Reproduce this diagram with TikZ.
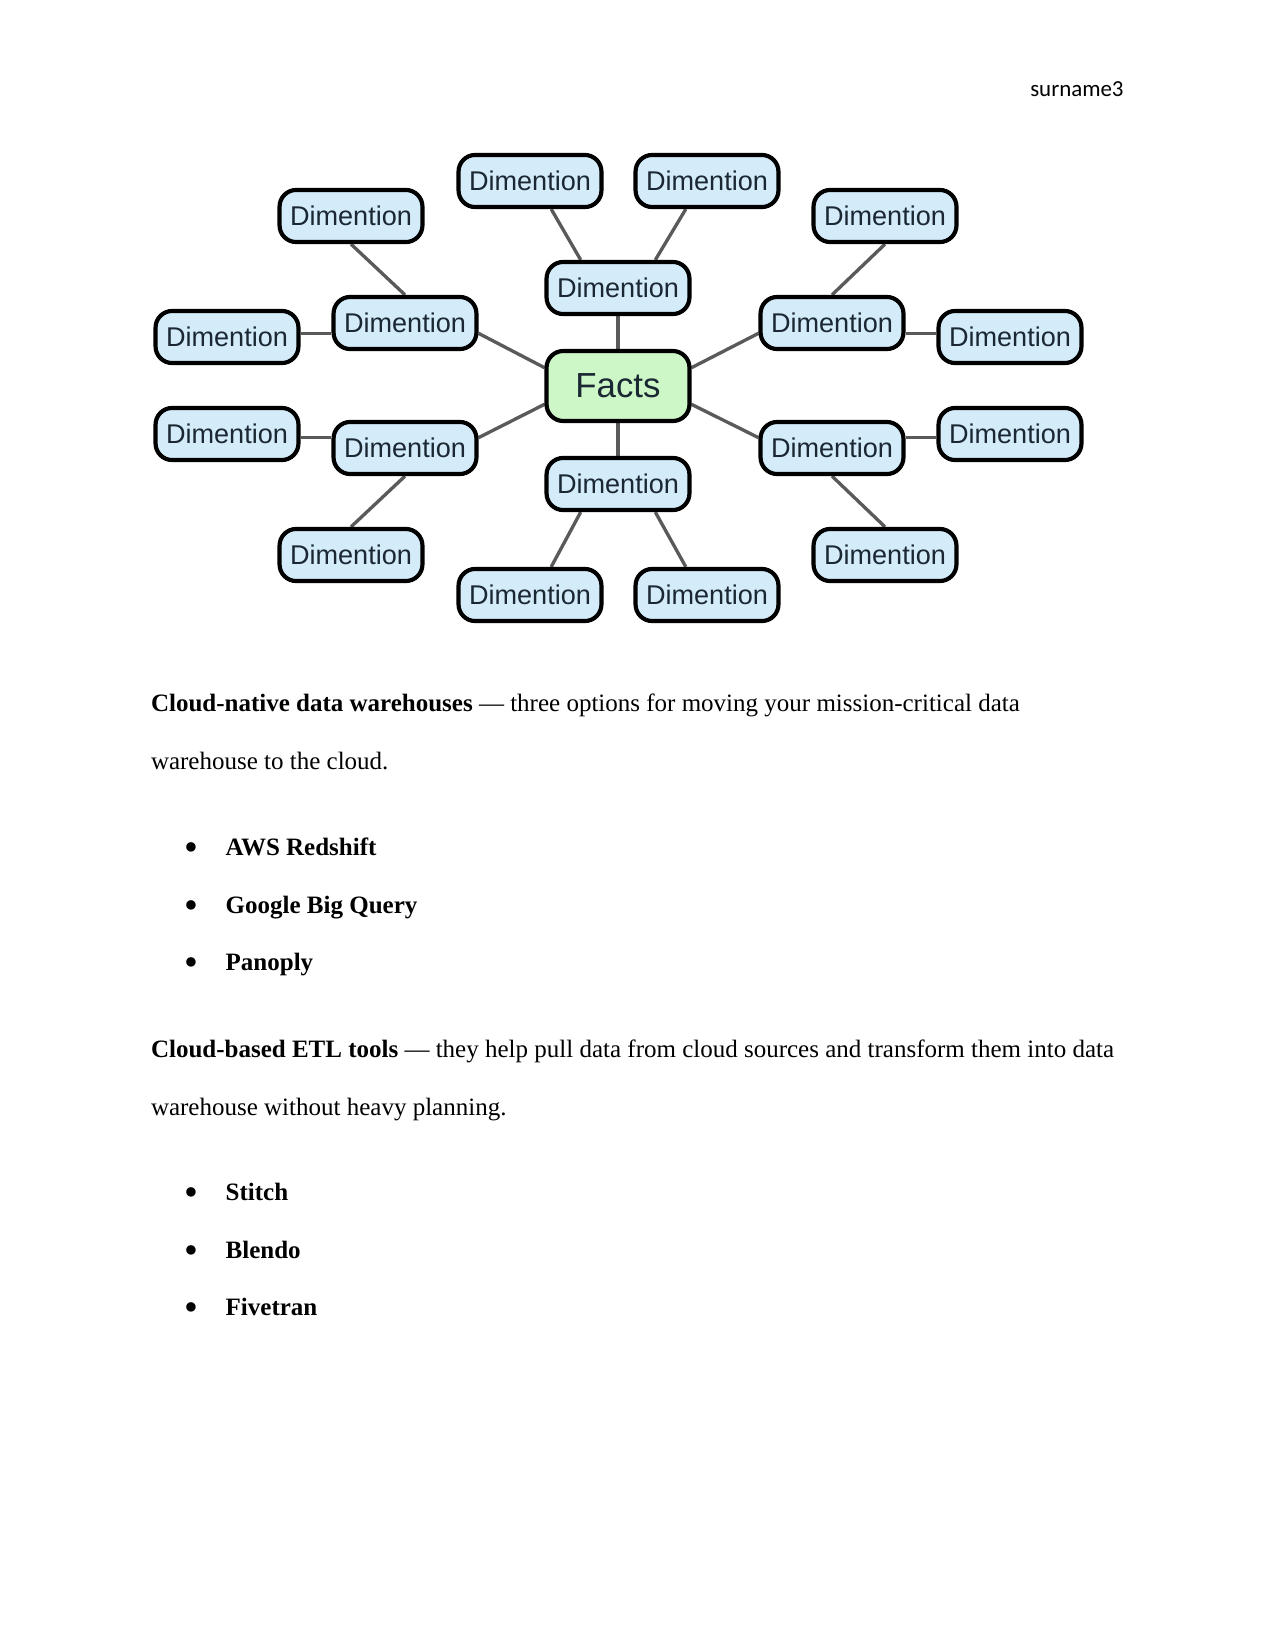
\documentclass[tikz,border=0pt]{standalone}
\usepackage{fontspec}
\setmainfont{Liberation Serif}
\newfontfamily\boxfont{Liberation Sans}
\newfontfamily\headfont{Carlito}
\usetikzlibrary{backgrounds}
\definecolor{dimfill}{HTML}{D4ECFA}
\definecolor{factfill}{HTML}{CDF7C6}
\definecolor{linkgray}{HTML}{5A5A5A}
\definecolor{boxtext}{HTML}{1B2833}

\begin{document}
\begin{tikzpicture}[
    x=0.48pt, y=-0.48pt,
    dimbox/.style={
        draw=black,
        line width=2pt,
        fill=dimfill,
        rounded corners=8pt,
        minimum width=68.6pt,
        minimum height=25pt,
        inner sep=0pt,
        text=boxtext,
        font=\boxfont\fontsize{13}{15}\selectfont
    },
    factbox/.style={
        dimbox,
        fill=factfill,
        minimum height=33.6pt,
        font=\boxfont\fontsize{16.7}{19}\selectfont
    },
    link/.style={draw=linkgray, line width=1.6pt},
    bodytext/.style={anchor=base west, inner sep=0pt, font=\fontsize{12}{14}\selectfont},
    dotmark/.style={anchor=base, inner sep=0pt, font=\fontsize{19}{14}\selectfont}
]
\useasboundingbox (0,0) rectangle (1275,1651);

% Header
\node[anchor=base east, inner sep=0pt, font=\headfont\fontsize{11}{13}\selectfont]
    (header) at (1124,97) {surname3};

% Centre of the star
\node[factbox] (facts) at (618,386) {Facts};

% Inner ring
\node[dimbox] (dimT) at (618,288) {Dimention};
\node[dimbox] (dimB) at (618,484) {Dimention};
\node[dimbox] (dimLT) at (405,323) {Dimention};
\node[dimbox] (dimLB) at (405,448) {Dimention};
\node[dimbox] (dimRT) at (832,323) {Dimention};
\node[dimbox] (dimRB) at (832,448) {Dimention};

% Outer ring
\node[dimbox] (outTL) at (530,181) {Dimention};
\node[dimbox] (outTR) at (707,181) {Dimention};
\node[dimbox] (outBL) at (530,595) {Dimention};
\node[dimbox] (outBR) at (707,595) {Dimention};
\node[dimbox] (outLT) at (351,216) {Dimention};
\node[dimbox] (outLB) at (351,555) {Dimention};
\node[dimbox] (outRT) at (885,216) {Dimention};
\node[dimbox] (outRB) at (885,555) {Dimention};
\node[dimbox] (farLT) at (227,337) {Dimention};
\node[dimbox] (farLB) at (227,434) {Dimention};
\node[dimbox] (farRT) at (1010,337) {Dimention};
\node[dimbox] (farRB) at (1010,434) {Dimention};

% Connectors
\begin{scope}[on background layer]
    \draw[link] (facts.north) -- (dimT.south);
    \draw[link] (facts.south) -- (dimB.north);
    \draw[link] (dimLT.-8) -- (facts.166);
    \draw[link] (dimLB.8) -- (facts.-166);
    \draw[link] (dimRT.188) -- (facts.14);
    \draw[link] (dimRB.172) -- (facts.-14);

    \draw[link] (outTL.-53) -- (dimT.143);
    \draw[link] (outTR.-127) -- (dimT.37);
    \draw[link] (outBL.53) -- (dimB.-143);
    \draw[link] (outBR.127) -- (dimB.-37);

    \draw[link] (outLT.south) -- (dimLT.north);
    \draw[link] (outLB.north) -- (dimLB.south);
    \draw[link] (outRT.south) -- (dimRT.north);
    \draw[link] (outRB.north) -- (dimRB.south);

    \draw[link] (dimLT.188) -- (dimLT.188 -| farLT.east);
    \draw[link] (dimLB.172) -- (dimLB.172 -| farLB.east);
    \draw[link] (dimRT.-8) -- (dimRT.-8 -| farRT.west);
    \draw[link] (dimRB.8) -- (dimRB.8 -| farRB.west);
\end{scope}

% First paragraph and list
\node[bodytext] (paraA1) at (150.6,711)
    {\textbf{Cloud-native data warehouses} — three options for moving your mission-critical data};
\node[bodytext] (paraA2) at (150.6,769) {warehouse to the cloud.};
\node[dotmark] (dotA1) at (191,860) {\textbullet};
\node[bodytext] (itemA1) at (225.3,855) {\textbf{AWS Redshift}};
\node[dotmark] (dotA2) at (191,918) {\textbullet};
\node[bodytext] (itemA2) at (225.3,913) {\textbf{Google Big Query}};
\node[dotmark] (dotA3) at (191,975) {\textbullet};
\node[bodytext] (itemA3) at (225.3,970) {\textbf{Panoply}};

% Second paragraph and list
\node[bodytext] (paraB1) at (150.6,1057)
    {\textbf{Cloud-based ETL tools} — they help pull data from cloud sources and transform them into data};
\node[bodytext] (paraB2) at (150.6,1115) {warehouse without heavy planning.};
\node[dotmark] (dotB1) at (191,1205) {\textbullet};
\node[bodytext] (itemB1) at (225.3,1200) {\textbf{Stitch}};
\node[dotmark] (dotB2) at (191,1263) {\textbullet};
\node[bodytext] (itemB2) at (225.3,1258) {\textbf{Blendo}};
\node[dotmark] (dotB3) at (191,1320) {\textbullet};
\node[bodytext] (itemB3) at (225.3,1315) {\textbf{Fivetran}};

\end{tikzpicture}
\end{document}
